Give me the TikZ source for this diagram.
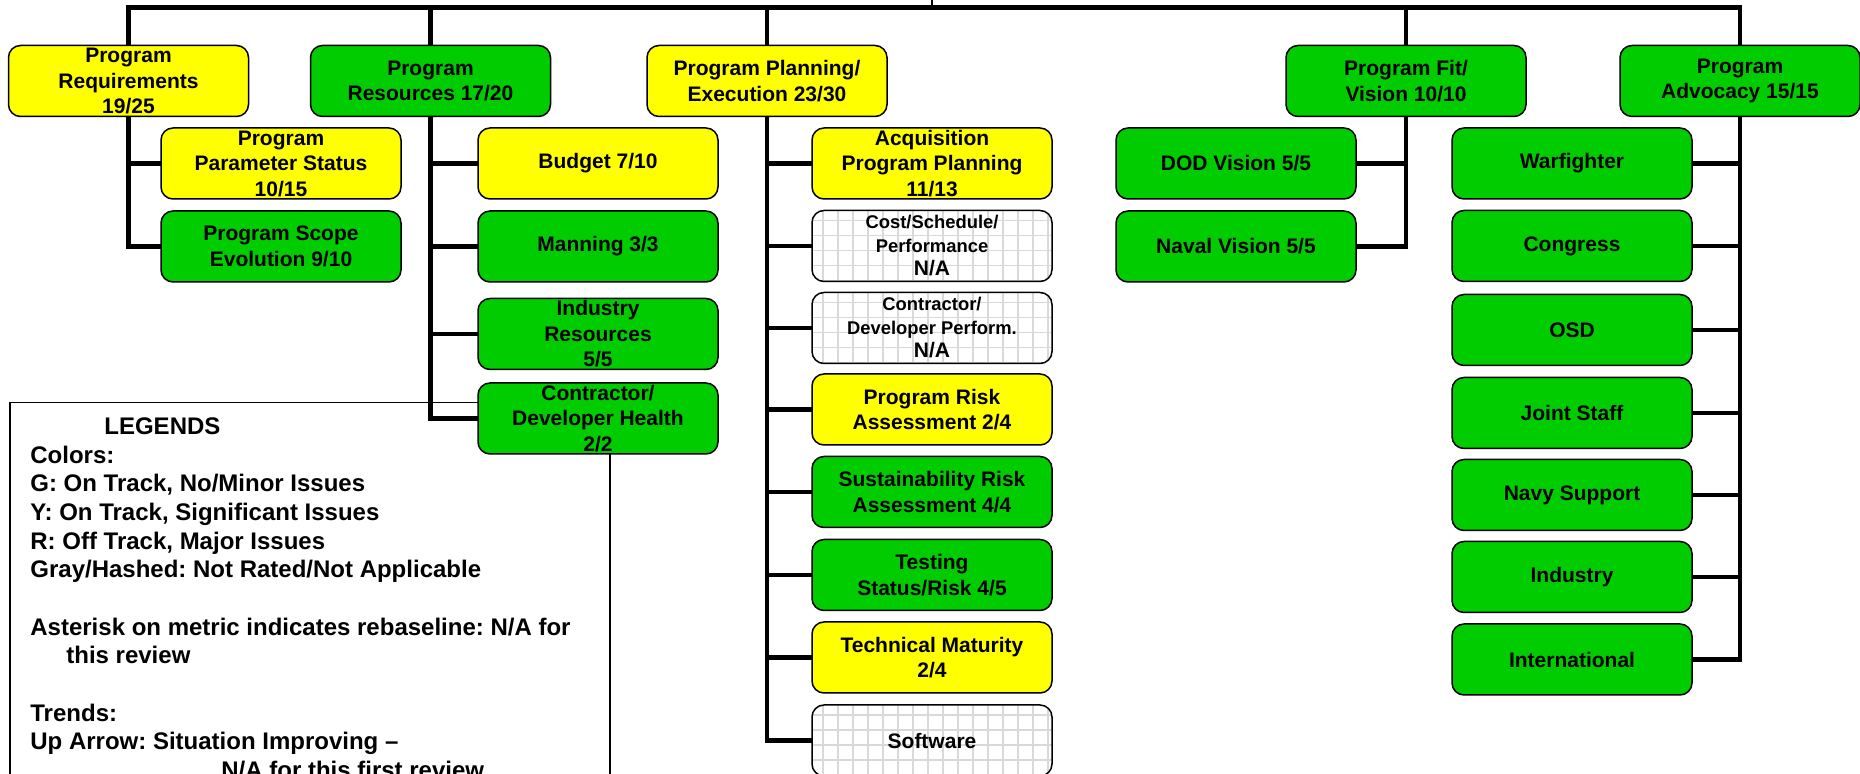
\documentclass[tikz,border=0pt]{standalone}
\usepackage{fontspec}
\setmainfont{Liberation Sans}
\frenchspacing
\definecolor{ygood}{HTML}{FFFF00}
\definecolor{ggood}{HTML}{00CC00}
\definecolor{gridc}{HTML}{D9D9D9}
\pgfdeclarelayer{bg}
\pgfsetlayers{bg,main}
\begin{document}
\begin{tikzpicture}[x=0.5pt,y=-0.5pt,
  box/.style={draw=black, line width=0.75pt, rounded corners=6pt,
    minimum width=120pt, minimum height=35.5pt, inner sep=0pt, align=center,
    font=\bfseries\fontsize{10.5}{12.75}\selectfont},
  yel/.style={box, fill=ygood},
  grn/.style={box, fill=ggood},
  hatch/.style={box, fill=white,
    path picture={
      \foreach \k in {0,...,16}{
        \draw[gridc, line width=0.8pt]
          ([xshift=5.5pt+\k*7.5pt]path picture bounding box.south west) --
          ([xshift=5.5pt+\k*7.5pt]path picture bounding box.north west);}
      \foreach \k in {0,...,5}{
        \draw[gridc, line width=0.8pt]
          ([yshift=-5pt-\k*7.5pt]path picture bounding box.north west) --
          ([yshift=-5pt-\k*7.5pt]path picture bounding box.north east);}
    }},
  hatchsmall/.style={hatch, font=\bfseries\fontsize{9.2}{11.75}\selectfont},
  conn/.style={line width=2.2pt, line cap=rect},
  legtxt/.style={anchor=base west, inner sep=0pt, font=\bfseries\fontsize{12}{14}\selectfont},
  legbox/.style={draw=black, line width=0.75pt, anchor=north west, inner sep=0pt,
    minimum width=300pt, minimum height=200pt}
]
\useasboundingbox (0,0) rectangle (1860,774);
\clip (0,0) rectangle (1860,774);

% coordinates for the top bus
\coordinate (busR) at (1740,7.5);
\coordinate (stub) at (932,0);

% top-level boxes
\node[yel] (req)  at (128.5,81) {Program\\Requirements\\19/25};
\node[grn] (res)  at (430.5,81) {Program\\Resources 17/20};
\node[yel] (plan) at (767,81)   {Program Planning/\\Execution 23/30};
\node[grn] (fit)  at (1406,81)  {Program Fit/\\Vision 10/10};
\node[grn] (adv)  at (1740,81)  {Program\\Advocacy 15/15};

% requirements children
\node[yel] (pps) at (281,163.5) {Program\\Parameter Status\\10/15};
\node[grn] (pse) at (281,246.5) {Program Scope\\Evolution 9/10};

% resources children
\node[yel] (budget)  at (598,163.5) {Budget 7/10};
\node[grn] (manning) at (598,246.5) {Manning 3/3};
\node[grn] (indres)  at (598,334)   {Industry\\Resources\\5/5};
\node[grn] (cdh)     at (598,418.5) {Contractor/\\Developer Health\\2/2};

% planning children
\node[yel]        (acq)  at (932,163.5) {Acquisition\\Program Planning\\11/13};
\node[hatchsmall] (csp)  at (932,246)   {Cost/Schedule/\\Performance\\{\fontsize{10.5}{11.75}\selectfont N/A}};
\node[hatchsmall] (cdp)  at (932,328)   {Contractor/\\Developer Perform.\\{\fontsize{10.5}{11.75}\selectfont N/A}};
\node[yel]        (risk) at (932,409.5) {Program Risk\\Assessment 2/4};
\node[grn]        (sust) at (932,492)   {Sustainability Risk\\Assessment 4/4};
\node[grn]        (test) at (932,575)   {Testing\\Status/Risk 4/5};
\node[yel]        (tech) at (932,657.5) {Technical Maturity\\2/4};
\node[hatch]      (soft) at (932,740.5) {Software};

% fit children
\node[grn] (dod)   at (1236,163.5) {DOD Vision 5/5};
\node[grn] (naval) at (1236,246.5) {Naval Vision 5/5};

% advocacy children
\node[grn] (war)   at (1572,163.5) {Warfighter};
\node[grn] (cong)  at (1572,246)   {Congress};
\node[grn] (osd)   at (1572,330)   {OSD};
\node[grn] (joint) at (1572,413)   {Joint Staff};
\node[grn] (navy)  at (1572,495)   {Navy Support};
\node[grn] (ind)   at (1572,577)   {Industry};
\node[grn] (intl)  at (1572,659.5) {International};

% legend frame and connectors, behind the boxes
\begin{pgfonlayer}{bg}
\node[legbox] (legend) at (9,402) {};

\draw[conn] (req.north) |- (busR) -- (adv.north);
\draw[conn] (res.north) -- (res.north |- busR);
\draw[conn] (plan.north) -- (plan.north |- busR);
\draw[conn] (fit.north) -- (fit.north |- busR);
\draw[line width=1pt] (stub) -- (stub |- busR);

\draw[conn] (req.south) |- (pse.west);
\draw[conn] (req.south) |- (pps.west);

\draw[conn] (res.south) |- (cdh.west);
\foreach \n in {budget,manning,indres}
  \draw[conn] (res.south) |- (\n.west);

\draw[conn] (plan.south) |- (soft.west);
\foreach \n in {acq,csp,cdp,risk,sust,test,tech}
  \draw[conn] (plan.south) |- (\n.west);

\draw[conn] (fit.south) |- (naval.east);
\draw[conn] (fit.south) |- (dod.east);

\draw[conn] (adv.south) |- (intl.east);
\foreach \n in {war,cong,osd,joint,navy,ind}
  \draw[conn] (adv.south) |- (\n.east);
\end{pgfonlayer}

% legend text
\node[legtxt] (lg0) at (104,434.5) {LEGENDS};
\node[legtxt] (lg1) at (30,463.5) {Colors:};
\node[legtxt] (lg2) at (30,491.5) {G: On Track, No/Minor Issues};
\node[legtxt] (lg3) at (30,520.5) {Y: On Track, Significant Issues};
\node[legtxt] (lg4) at (30,549.5) {R: Off Track, Major Issues};
\node[legtxt] (lg5) at (30,577.5) {Gray/Hashed: Not Rated/Not Applicable};
\node[legtxt] (lg6) at (30,635.5) {Asterisk on metric indicates rebaseline: N/A for};
\node[legtxt] (lg7) at (66,663.5) {this review};
\node[legtxt] (lg8) at (30,721.5) {Trends:};
\node[legtxt] (lg9) at (30,750) {Up Arrow: Situation Improving –};
\node[legtxt] (lg10) at (221,779) {N/A for this first review};
\end{tikzpicture}
\end{document}
